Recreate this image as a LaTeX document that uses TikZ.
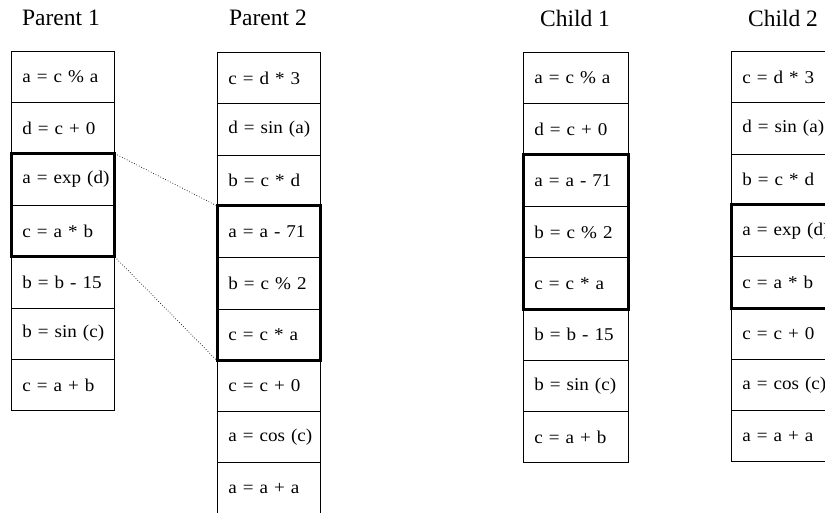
\documentclass[tikz,border=0pt]{standalone}
\usepackage{fontspec}
\setmainfont{Liberation Serif}
\newfontfamily\cellfont[FakeStretch=1.06]{Liberation Serif}
\begin{document}
\begin{tikzpicture}[x=1pt,y=-1pt,
  cell/.style={draw=black, line width=0.8pt, text width=#1, inner xsep=11pt, inner ysep=0pt,
    minimum height=51.3pt, align=left, anchor=north west, font=\cellfont\fontsize{18}{22}\selectfont},
  cell/.default=81pt,
  title/.style={font=\fontsize{23.5}{27}\selectfont, inner sep=0pt},
  group/.style={draw=black, line width=3pt},
  link/.style={dotted, line width=0.7pt}]
\clip (0,0) rectangle (825,513);
% titles
\node[title] (t1) at (61,18) {Parent 1};
\node[title] (t2) at (268,18) {Parent 2};
\node[title] (t3) at (575,18) {Child 1};
\node[title] (t4) at (783,18) {Child 2};
% Parent 1
\foreach \t [count=\i] in {a = c \% a, d = c + 0, a = exp (d), c = a * b, b = b - 15, b = sin (c), c = a + b}
  \node[cell] (pa-\i) at (11, {51+(\i-1)*51.3}) {\mbox{\t}};
% Parent 2
\foreach \t [count=\i] in {c = d * 3, d = sin (a), b = c * d, a = a - 71, b = c \% 2, c = c * a, c = c + 0, a = cos (c), a = a + a}
  \node[cell] (pb-\i) at (217, {52+(\i-1)*51.3}) {\mbox{\t}};
% Child 1
\foreach \t [count=\i] in {a = c \% a, d = c + 0, a = a - 71, b = c \% 2, c = c * a, b = b - 15, b = sin (c), c = a + b}
  \node[cell=83pt] (ca-\i) at (523, {52+(\i-1)*51.3}) {\mbox{\t}};
% Child 2
\foreach \t [count=\i] in {c = d * 3, d = sin (a), b = c * d, a = exp (d), c = a * b, c = c + 0, a = cos (c), a = a + a}
  \node[cell=82pt] (cb-\i) at (731, {51+(\i-1)*51.3}) {\mbox{\t}};
% highlighted groups
\draw[group] (pa-3.north west) rectangle (pa-4.south east);
\draw[group] (pb-4.north west) rectangle (pb-6.south east);
\draw[group] (ca-3.north west) rectangle (ca-5.south east);
\draw[group] (cb-4.north west) rectangle (cb-5.south east);
% dotted links
\draw[link] (pa-3.north east) -- (pb-4.north west);
\draw[link] (pa-4.south east) -- (pb-6.south west);
\end{tikzpicture}
\end{document}
